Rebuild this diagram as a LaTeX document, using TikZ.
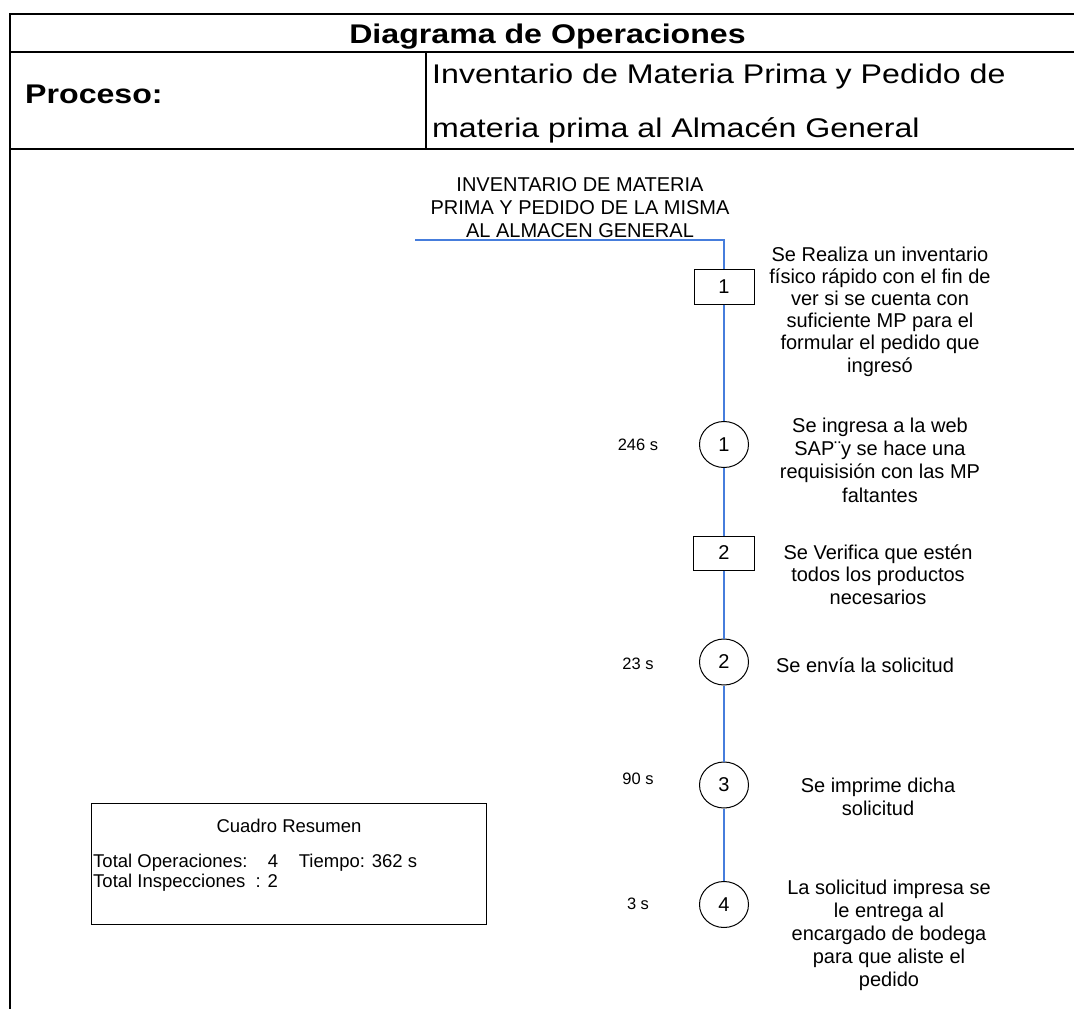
\documentclass[tikz,border=0pt]{standalone}
\usepackage{fontspec}
\setmainfont{Liberation Sans}
\newfontfamily\hdrfont[FakeStretch=1.19]{Liberation Sans}
\usetikzlibrary{shapes.geometric}
\definecolor{flowblue}{RGB}{70,125,220}
\begin{document}
\begin{tikzpicture}[x=1pt,y=-1pt,
  frame/.style={line width=2pt,black},
  flow/.style={flowblue,line width=1.8pt},
  inspbox/.style={draw,line width=1pt,minimum width=60pt,minimum height=35pt,inner sep=0pt,
    fill=white,font=\fontsize{20}{22}\selectfont},
  opcirc/.style={draw,ellipse,line width=1pt,minimum width=49pt,minimum height=46pt,inner sep=0pt,
    fill=white,font=\fontsize{20}{22}\selectfont},
  % multi-line nodes are placed by the baseline of their last line
  desc/.style={anchor=base,align=center,inner sep=0pt,font=\fontsize{20}{22.4}\selectfont},
  tlabel/.style={anchor=base,inner sep=0pt,font=\fontsize{16.5}{18}\selectfont},
  hdr/.style={inner sep=0pt,font=\hdrfont\fontsize{27}{54}\selectfont},
  hdrbold/.style={inner sep=0pt,font=\hdrfont\bfseries\fontsize{27}{54}\selectfont},
  small/.style={inner sep=0pt,font=\fontsize{18.5}{20}\selectfont}
]
\useasboundingbox (0,0) rectangle (1074,1009);
\fill[white] (0,0) rectangle (1074,1009);

% header table
\draw[frame] (1074,14) -- (10,14) -- (10,1009);
\draw[frame] (10,52) -- (1074,52);
\draw[frame] (10,149) -- (1074,149);
\draw[line width=1.5pt] (426,52) -- (426,149);

\node[hdrbold,anchor=base] (titulo) at (547.5,43) {Diagrama de Operaciones};
\node[hdrbold,anchor=base west] (proceso) at (25,103) {Proceso:};
\node[hdr,anchor=base west,align=left] (nombre) at (432,137)
  {Inventario de Materia Prima y Pedido de\\materia prima al Almacén General};

% start of the process
\node[desc,font=\fontsize{20}{23}\selectfont] (inicio) at (580,237)
  {INVENTARIO DE MATERIA\\PRIMA Y PEDIDO DE LA MISMA\\AL ALMACEN GENERAL};
\coordinate (entrada) at (415,240);
\coordinate (codo) at (724,240);

% symbols
\node[inspbox] (i1) at (724,286.5) {1};
\node[opcirc] (o1) at (724,444.5) {1};
\node[inspbox,minimum width=61pt,minimum height=34pt] (i2) at (724,553) {2};
\node[opcirc] (o2) at (724,662) {2};
\node[opcirc] (o3) at (724,785) {3};
\node[opcirc] (o4) at (724,904.5) {4};

% flow line
\draw[flow] (entrada) -- (codo) -- (i1.north);
\draw[flow] (i1) -- (o1) -- (i2) -- (o2) -- (o3) -- (o4);

% descriptions
\node[desc,font=\fontsize{20}{22.2}\selectfont] (d1) at (880,372)
  {Se Realiza un inventario\\físico rápido con el fin de\\ver si se cuenta con\\suficiente MP para el\\formular el pedido que\\ingresó};
\node[desc,font=\fontsize{20}{23.2}\selectfont] (d2) at (880,502)
  {Se ingresa a la web\\SAP¨y se hace una\\requisisión con las MP\\faltantes};
\node[desc] (d3) at (878,604)
  {Se Verifica que estén\\todos los productos\\necesarios};
\node[desc] (d4) at (865,672) {Se envía la solicitud};
\node[desc] (d5) at (878,815) {Se imprime dicha\\solicitud};
\node[desc,font=\fontsize{20}{22.8}\selectfont] (d6) at (889,986)
  {La solicitud impresa se\\le entrega al\\encargado de bodega\\para que aliste el\\pedido};

% times
\node[tlabel] (t1) at (638,450) {246 s};
\node[tlabel] (t2) at (638,669) {23 s};
\node[tlabel] (t3) at (638,784) {90 s};
\node[tlabel] (t4) at (638,909) {3 s};

% summary
\node[draw,line width=1pt,minimum width=395pt,minimum height=121pt,anchor=north west,inner sep=0pt]
  (resumen) at (91,803) {};
\node[small,anchor=base] (resumentit) at (289,832) {Cuadro Resumen};
\node[small,anchor=base west,align=left] (resumentxt) at (93,887)
  {Total Operaciones:~~~~4~~~~Tiempo: 362 s\\Total Inspecciones~~: 2};
\end{tikzpicture}
\end{document}
